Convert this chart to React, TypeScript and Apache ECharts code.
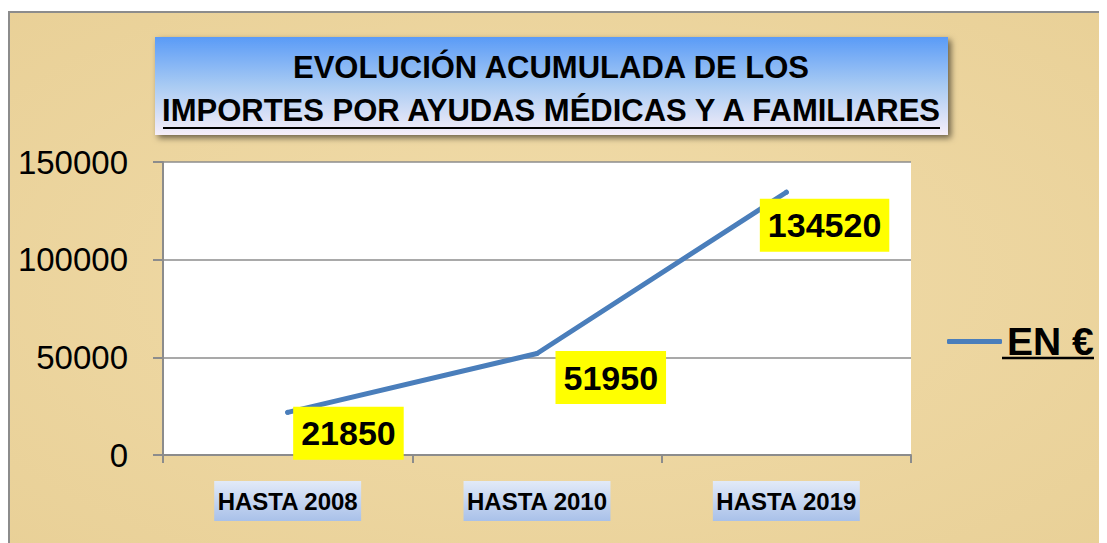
import React, { useEffect, useRef } from "react";
import * as echarts from "echarts";

const categories = ["HASTA 2008", "HASTA 2010", "HASTA 2019"];
const values = [21850, 51950, 134520];
const seriesName = "EN €";
const titleLine1 = "EVOLUCIÓN ACUMULADA DE LOS";
const titleLine2 = "IMPORTES POR AYUDAS MÉDICAS Y A FAMILIARES";
const labelOffsets = [[3, 21], [16, 24], [-29, 33]];

const FONT = "'Liberation Sans', Arial, sans-serif";

export default function App() {
  const ref = useRef<HTMLDivElement>(null);
  useEffect(() => {
    document.body.style.overflow = "hidden";
    const chart = echarts.init(ref.current!, undefined, { renderer: "svg" });
    chart.setOption({
      animation: false,
      backgroundColor: {
        type: "radial", x: 0.5, y: 0.5, r: 0.8,
        colorStops: [
          { offset: 0, color: "#f1dcaa" },
          { offset: 1, color: "#e8cf95" },
        ],
      },
      grid: {
        left: 153, top: 149, width: 748, height: 293,
        show: true, backgroundColor: "#ffffff", borderWidth: 0,
      },
      legend: {
        left: 932, top: 304,
        icon: "roundRect",
        itemWidth: 55, itemHeight: 5, itemGap: 5,
        textStyle: { fontSize: 39, fontWeight: "bold", color: "#000", fontFamily: FONT },
        data: [seriesName],
      },
      xAxis: {
        type: "category",
        data: categories,
        boundaryGap: true,
        axisLine: { lineStyle: { color: "#8c8c8c", width: 2 } },
        axisTick: { show: true, length: 8, lineStyle: { color: "#8c8c8c", width: 2 } },
        axisLabel: {
          margin: 26,
          fontSize: 24, fontWeight: "bold", color: "#000", fontFamily: FONT,
          padding: [8, 3, 8, 3],
          backgroundColor: {
            type: "linear", x: 0, y: 0, x2: 0, y2: 1,
            colorStops: [
              { offset: 0, color: "#e2eaf8" },
              { offset: 1, color: "#a9c1e9" },
            ],
          },
        },
      },
      yAxis: {
        type: "value",
        min: 0, max: 150000, interval: 50000,
        axisLine: { show: true, lineStyle: { color: "#8c8c8c", width: 2 } },
        axisTick: { show: true, length: 10, lineStyle: { color: "#8c8c8c", width: 2 } },
        axisLabel: {
          margin: 35, fontSize: 33, color: "#000", fontFamily: FONT,
          formatter: (v: number) => String(v),
        },
        splitLine: { show: true, lineStyle: { color: "#8c8c8c", width: 1.5 } },
      },
      series: [
        {
          name: seriesName,
          type: "line",
          symbol: "circle",
          symbolSize: 5,
          showSymbol: true,
          lineStyle: { color: "#4a7ebb", width: 5, cap: "round", join: "round" },
          itemStyle: { color: "#4a7ebb" },
          data: values.map((v, i) => ({
            value: v,
            label: { offset: labelOffsets[i] },
          })),
          label: {
            show: true,
            position: "right",
            distance: 0,
            formatter: "{c}",
            fontSize: 34, fontWeight: "bold", color: "#000", fontFamily: FONT,
            backgroundColor: "#ffff00",
            lineHeight: 37,
            padding: [8, 8, 8, 8],
          },
        },
      ],
      graphic: [
        {
          type: "rect",
          shape: { x: 145, y: 24, width: 793, height: 98 },
          style: {
            fill: {
              type: "linear", x: 0, y: 0, x2: 0, y2: 1,
              colorStops: [
                { offset: 0, color: "#5a9bf7" },
                { offset: 0.5, color: "#a9cbf3" },
                { offset: 1, color: "#f6eef8" },
              ],
            },
            shadowBlur: 6, shadowOffsetX: 3, shadowOffsetY: 3,
            shadowColor: "rgba(0,0,0,0.55)",
          },
          z: 10,
        },
        {
          type: "text",
          x: 541, y: 54,
          style: {
            text: titleLine1, fill: "#000", fontSize: 31, fontWeight: "bold",
            fontFamily: FONT, align: "center", verticalAlign: "middle",
          },
          z: 11,
        },
        {
          type: "text",
          x: 541, y: 97,
          style: {
            text: titleLine2, fill: "#000", fontSize: 31, fontWeight: "bold",
            fontFamily: FONT, align: "center", verticalAlign: "middle",
          },
          z: 11,
        },
        {
          type: "line",
          shape: { x1: 153, y1: 115, x2: 930, y2: 115 },
          style: { stroke: "#000", lineWidth: 2 },
          z: 11,
        },
        {
          type: "line",
          shape: { x1: 992, y1: 345, x2: 1084, y2: 345 },
          style: { stroke: "#000", lineWidth: 2.5 },
          z: 11,
        },
      ],
    });
    return () => chart.dispose();
  }, []);
  return (
    <div style={{ marginTop: 3, borderLeft: "2px solid #8c8c8c", borderTop: "2px solid #8c8c8c", width: 1097, height: 530 }}>
      <div ref={ref} style={{ width: 1097, height: 530 }} />
    </div>
  );
}
